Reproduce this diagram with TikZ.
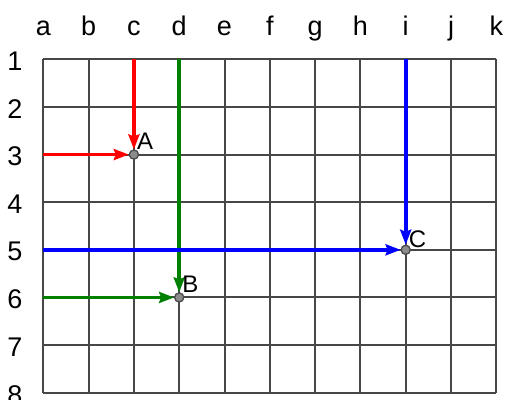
\documentclass[tikz,border=0pt]{standalone}
\usepackage{fontspec}
\setmainfont{Liberation Sans}
\usetikzlibrary{arrows.meta}

\definecolor{ArrRed}{RGB}{255, 0, 0}
\definecolor{ArrGreen}{RGB}{0, 128, 0}
\definecolor{ArrBlue}{RGB}{0, 0, 255}

\begin{document}
\begin{tikzpicture}[
    x=1pt, y=-1pt,
    gridline/.style={draw=black!72, line width=2pt},
    axis/.style={font=\fontsize{27}{30}\selectfont, inner sep=0pt},
    pt/.style={circle, draw=black!70, fill=black!45, line width=1.2pt, minimum size=9pt, inner sep=0pt},
    lbl/.style={anchor=south west, inner sep=0pt, font=\fontsize{24}{28}\selectfont},
    arr/.style={-{Stealth[length=15pt, width=11pt, inset=2pt]}, line width=3.6pt}
]
    \useasboundingbox (0,0) rectangle (505,399);

    % grid points
    \foreach \c [count=\i from 0] in {a,b,c,d,e,f,g,h,i,j,k}
        \foreach \r in {1,...,8}
            \coordinate (\c\r) at ({43.3+45.3*\i}, {59.3+47.63*(\r-1)});

    % grid
    \foreach \c in {a,b,c,d,e,f,g,h,i,j,k}
        \draw[gridline] (\c1) -- (\c8);
    \foreach \r in {1,...,8}
        \draw[gridline] (a\r) -- (k\r);

    % axis labels
    \foreach \c in {a,b,c,d,e,f,g,h,i,j,k}
        \path (\c1) ++(0,-24.3) node[axis, anchor=base] (col-\c) {\c};
    \foreach \r in {1,...,8}
        \path (a\r) ++(-28.5,2) node[axis] (row-\r) {\r};

    % points
    \node[pt] (A) at (c3) {};
    \node[pt] (B) at (d6) {};
    \node[pt] (C) at (i5) {};

    \draw[arr, ArrRed] (c1) -- (A);
    \draw[arr, ArrRed] (a3) -- (A);
    \draw[arr, ArrGreen] (d1) -- (B);
    \draw[arr, ArrGreen] (a6) -- (B);
    \draw[arr, ArrBlue] (i1) -- (C);
    \draw[arr, ArrBlue] (a5) -- (C);

    \node[pt] at (A) {};
    \node[pt] at (B) {};
    \node[pt] at (C) {};

    \node[lbl] (labA) at ([shift={(3,-5)}]A.center) {A};
    \node[lbl] (labB) at ([shift={(3,-5)}]B.center) {B};
    \node[lbl] (labC) at ([shift={(3,-2)}]C.center) {C};
\end{tikzpicture}
\end{document}
